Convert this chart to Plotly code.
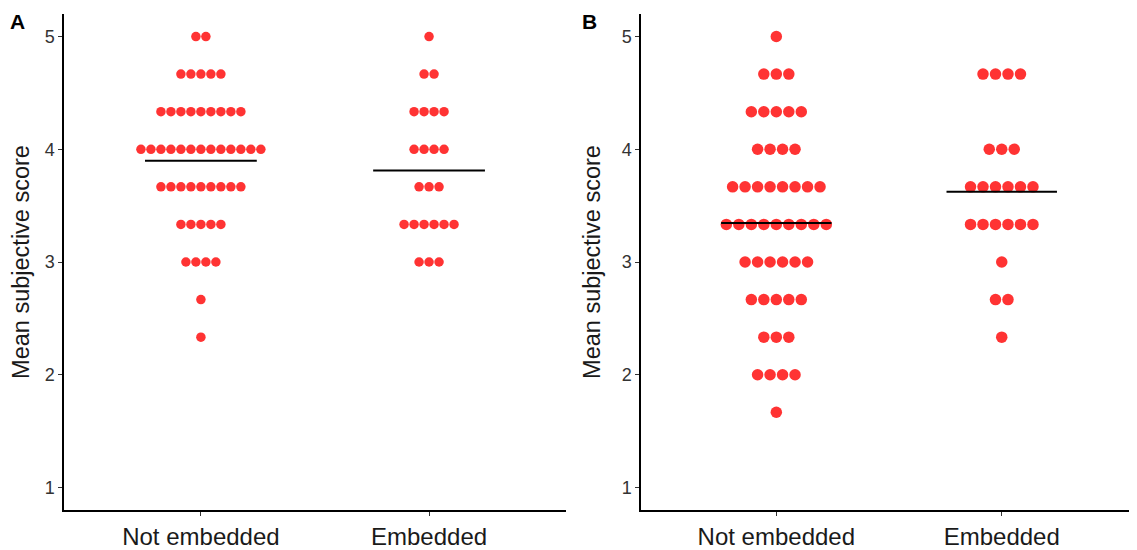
import plotly.graph_objects as go

# Score levels (means of three ratings, in thirds)
levels = [5, 14/3, 13/3, 4, 11/3, 10/3, 3, 8/3, 7/3, 2, 5/3]
categories = ["Not embedded", "Embedded"]

# Counts of observations at each level, per panel and group
a_not_embedded = [2, 5, 9, 13, 9, 5, 4, 1, 1, 0, 0]
a_embedded     = [1, 2, 4, 4, 3, 6, 3, 0, 0, 0, 0]
b_not_embedded = [1, 3, 5, 4, 8, 9, 6, 5, 3, 4, 1]
b_embedded     = [0, 4, 0, 3, 6, 6, 1, 2, 1, 0, 0]

y_ticks = [1, 2, 3, 4, 5]
dot_color = "#FF3333"
font_family = "Liberation Sans, Arial, sans-serif"

panels = [
    {"groups": [a_not_embedded, a_embedded], "xa": "x", "ya": "y", "spacing": 0.0438, "size": 9.5,
     "domain": [0, 0.4678], "label": "A", "label_x": -0.043},
    {"groups": [b_not_embedded, b_embedded], "xa": "x2", "ya": "y2", "spacing": 0.0554, "size": 11.5,
     "domain": [0.5378, 1.0], "label": "B", "label_x": 0.490},
]

fig = go.Figure()
for p in panels:
    for gi, counts in enumerate(p["groups"]):
        xs, ys = [], []
        for lvl, n in zip(levels, counts):
            for j in range(n):
                xs.append(gi + 1 + (j - (n - 1) / 2) * p["spacing"])
                ys.append(lvl)
        fig.add_trace(go.Scatter(x=xs, y=ys, mode="markers", xaxis=p["xa"], yaxis=p["ya"],
                                 marker=dict(color=dot_color, size=p["size"], line=dict(width=0)),
                                 showlegend=False, hoverinfo="y"))
    for gi, counts in enumerate(p["groups"]):
        total = sum(counts)
        mean = sum(n * l for n, l in zip(counts, levels)) / total
        fig.add_trace(go.Scatter(x=[gi + 1 - 0.245, gi + 1 + 0.245], y=[mean, mean], mode="lines",
                                 xaxis=p["xa"], yaxis=p["ya"], line=dict(color="black", width=2),
                                 showlegend=False, hoverinfo="skip"))

axis_common = dict(showline=True, linecolor="black", linewidth=1.5, ticks="outside", ticklen=4,
                   tickcolor="#333333", tickwidth=1, showgrid=False, zeroline=False)

layout = dict(
    width=1129, height=542,
    margin=dict(l=56, r=0, t=6, b=40),
    paper_bgcolor="white", plot_bgcolor="white",
    font=dict(family=font_family, color="#1a1a1a"),
    annotations=[],
)
for i, p in enumerate(panels):
    suffix = "" if i == 0 else "2"
    layout["xaxis" + suffix] = dict(axis_common, domain=p["domain"], range=[0.4, 2.6],
                                    tickmode="array", tickvals=[1, 2], ticktext=categories,
                                    tickfont=dict(size=24, color="#1a1a1a"),
                                    anchor="y" + suffix)
    layout["yaxis" + suffix] = dict(axis_common, range=[0.8, 5.2], tickmode="array",
                                    tickvals=y_ticks, ticktext=[str(v) for v in y_ticks],
                                    tickfont=dict(size=18, color="#333333"),
                                    title=dict(text="Mean subjective score", font=dict(size=23.5, color="#1a1a1a"),
                                               standoff=14),
                                    anchor="x" + suffix, automargin=False)
    layout["annotations"].append(dict(text="<b>%s</b>" % p["label"], x=p["label_x"], y=1.012,
                                      xref="paper", yref="paper", showarrow=False,
                                      xanchor="center", yanchor="top",
                                      font=dict(size=21, color="black")))

fig.update_layout(**layout)
fig.write_html("out.html")
